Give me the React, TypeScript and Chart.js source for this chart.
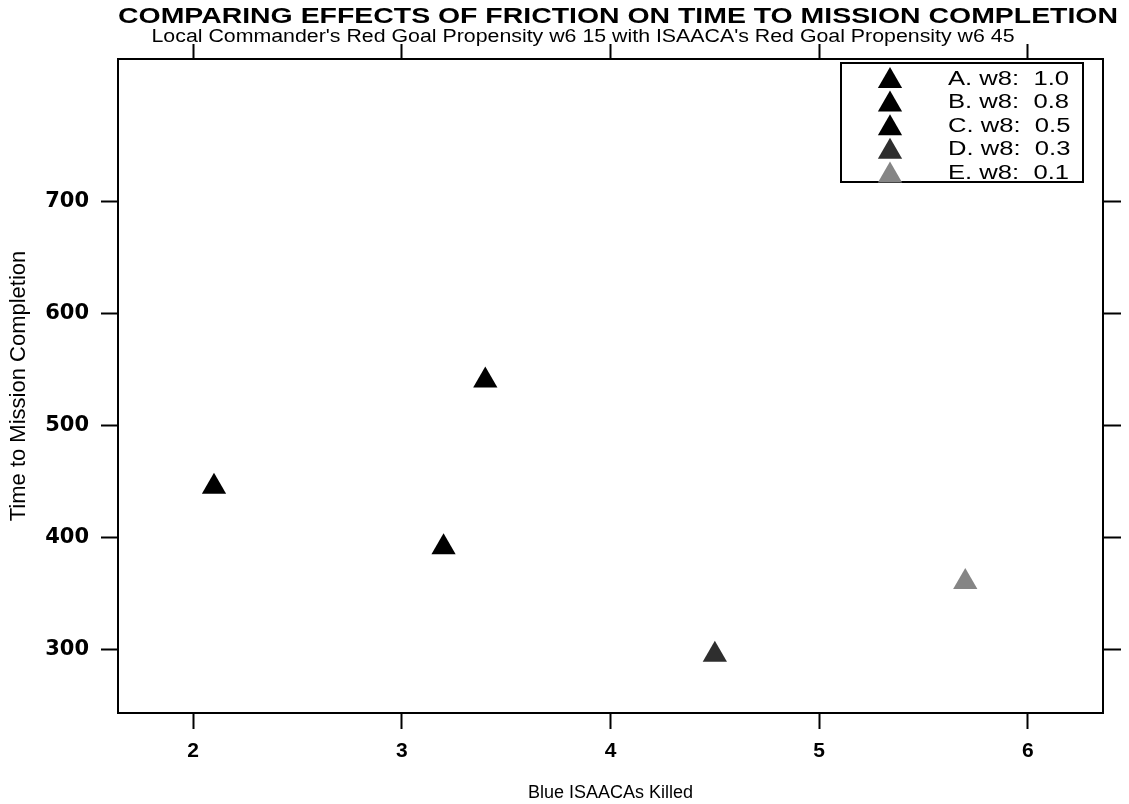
import React, { useEffect, useRef } from "react";
import { Chart, registerables } from "chart.js";

Chart.register(...registerables);

const TITLE = "COMPARING EFFECTS OF FRICTION ON TIME TO MISSION COMPLETION";
const SUBTITLE =
  "Local Commander's Red Goal Propensity w6 15 with ISAACA's Red Goal Propensity w6 45";
const X_TITLE = "Blue ISAACAs Killed";
const Y_TITLE = "Time to Mission Completion";

const SERIES_LABELS = ["A. w8:  1.0", "B. w8:  0.8", "C. w8:  0.5", "D. w8:  0.3", "E. w8:  0.1"];
const BLUE_KILLED = [2.1, 3.4, 3.2, 4.5, 5.7];
const TIME_TO_COMPLETION = [445, 540, 391, 295, 360];
const SERIES_COLORS = ["#000000", "#000000", "#000000", "#2e2e2e", "#858585"];

const X_TICKS = [2, 3, 4, 5, 6];
const Y_TICKS = [300, 400, 500, 600, 700];
const X_MIN = 1.64;
const X_MAX = 6.36;
const Y_MIN = 243;
const Y_MAX = 827;

const W = 1129;
const H = 804;

function triangle(ctx: CanvasRenderingContext2D, x: number, y: number, r: number, color: string) {
  ctx.beginPath();
  for (let k = 0; k < 3; k++) {
    const a = (k * 2 * Math.PI) / 3;
    const px = x + Math.sin(a) * r;
    const py = y - Math.cos(a) * r;
    if (k === 0) ctx.moveTo(px, py);
    else ctx.lineTo(px, py);
  }
  ctx.closePath();
  ctx.fillStyle = color;
  ctx.fill();
}

const decorPlugin = {
  id: "decor",
  afterDraw(chart: any) {
    const ctx: CanvasRenderingContext2D = chart.ctx;
    const area = chart.chartArea;
    ctx.save();
    ctx.fillStyle = "#000";
    const stretched = (text: string, font: string, cx: number, cy: number, targetW: number) => {
      ctx.font = font;
      const w = ctx.measureText(text).width;
      ctx.save();
      ctx.translate(cx, cy);
      ctx.scale(targetW / w, 1);
      ctx.textAlign = "center";
      ctx.textBaseline = "middle";
      ctx.fillStyle = "#000";
      ctx.fillText(text, 0, 0);
      ctx.restore();
    };
    stretched(TITLE, 'bold 22px "Liberation Sans", Arial, sans-serif', 618, 17, 1000);
    stretched(SUBTITLE, '18px "Liberation Sans", Arial, sans-serif', 583, 37, 863);

    // legend box inside plot area (top right)
    const boxL = area.right - 262;
    const boxR = area.right - 20;
    const boxT = area.top + 4;
    const boxB = area.top + 123;
    ctx.fillStyle = "#fff";
    ctx.fillRect(boxL, boxT, boxR - boxL, boxB - boxT);
    ctx.strokeStyle = "#000";
    ctx.lineWidth = 2;
    ctx.strokeRect(boxL, boxT, boxR - boxL, boxB - boxT);

    const legendFont = '20px "Liberation Sans", Arial, sans-serif';
    ctx.font = legendFont;
    const sx = 121 / ctx.measureText(SERIES_LABELS[0]).width;
    chart.data.datasets.forEach((ds: any, i: number) => {
      const cy = boxT + 16 + i * 23.6;
      triangle(ctx, boxL + 49, cy + 2, 14, ds.pointBackgroundColor);
      ctx.save();
      ctx.translate(boxL + 107, cy);
      ctx.scale(sx, 1);
      ctx.font = legendFont;
      ctx.fillStyle = "#000";
      ctx.textAlign = "left";
      ctx.textBaseline = "middle";
      ctx.fillText(ds.label, 0, 0);
      ctx.restore();
    });
    ctx.restore();
  },
};

export default function App() {
  const ref = useRef<HTMLCanvasElement>(null);
  useEffect(() => {
    document.body.style.margin = "0";
    const canvas = ref.current;
    if (!canvas) return;
    const datasets = SERIES_LABELS.map((label, i) => ({
      label,
      data: [{ x: BLUE_KILLED[i], y: TIME_TO_COMPLETION[i] }],
      pointStyle: "triangle" as const,
      pointRadius: 14,
      pointHoverRadius: 14,
      pointBackgroundColor: SERIES_COLORS[i],
      pointBorderColor: SERIES_COLORS[i],
      pointBorderWidth: 0,
      showLine: false,
    }));

    const setTicks = (vals: number[]) => (scale: any) => {
      scale.ticks = vals.map((v) => ({ value: v }));
    };
    const border = { display: true, color: "#000", width: 2 };

    const chart = new Chart(canvas, {
      type: "scatter",
      data: { datasets },
      options: {
        responsive: false,
        animation: false,
        events: [],
        layout: { padding: 0 },
        plugins: {
          legend: { display: false },
          title: { display: false },
          tooltip: { enabled: false },
        },
        scales: {
          x: {
            type: "linear",
            position: "bottom",
            min: X_MIN,
            max: X_MAX,
            afterBuildTicks: setTicks(X_TICKS),
            afterFit: (s: any) => {
              s.height = 91;
            },
            border,
            grid: {
              drawOnChartArea: false,
              drawTicks: true,
              tickLength: 16,
              tickColor: "#000",
              tickWidth: 2,
            },
            ticks: {
              color: "#000",
              padding: 10,
              maxRotation: 0,
              font: { family: '"Liberation Sans", Arial, sans-serif', size: 21, weight: "bold" },
            },
            title: {
              display: true,
              text: X_TITLE,
              color: "#000",
              font: { family: '"Liberation Sans", Arial, sans-serif', size: 18 },
              padding: { top: 10, bottom: 0 },
            },
          },
          x2: {
            type: "linear",
            position: "top",
            min: X_MIN,
            max: X_MAX,
            afterBuildTicks: setTicks(X_TICKS),
            afterFit: (s: any) => {
              s.height = 59;
            },
            border,
            grid: {
              drawOnChartArea: false,
              drawTicks: true,
              tickLength: 15,
              tickColor: "#000",
              tickWidth: 2,
            },
            ticks: { display: false },
          },
          y: {
            type: "linear",
            position: "left",
            min: Y_MIN,
            max: Y_MAX,
            afterBuildTicks: setTicks(Y_TICKS),
            afterFit: (s: any) => {
              s.width = 118;
            },
            border,
            grid: {
              drawOnChartArea: false,
              drawTicks: true,
              tickLength: 17,
              tickColor: "#000",
              tickWidth: 2,
            },
            ticks: {
              color: "#000",
              padding: 12,
              font: { family: '"DejaVu Sans", sans-serif', size: 21, weight: "bold" },
            },
            title: {
              display: true,
              text: Y_TITLE,
              color: "#000",
              font: { family: '"Liberation Sans", Arial, sans-serif', size: 22 },
              padding: { top: 6, bottom: 0 },
            },
          },
          y2: {
            type: "linear",
            position: "right",
            min: Y_MIN,
            max: Y_MAX,
            afterBuildTicks: setTicks(Y_TICKS),
            afterFit: (s: any) => {
              s.width = W - 1103;
            },
            border,
            grid: {
              drawOnChartArea: false,
              drawTicks: true,
              tickLength: 18,
              tickColor: "#000",
              tickWidth: 2,
            },
            ticks: { display: false },
          },
        },
      },
      plugins: [decorPlugin],
    } as any);
    return () => chart.destroy();
  }, []);
  return (
    <div style={{ width: W, height: H }}>
      <canvas ref={ref} width={W} height={H} style={{ display: "block" }} />
    </div>
  );
}
